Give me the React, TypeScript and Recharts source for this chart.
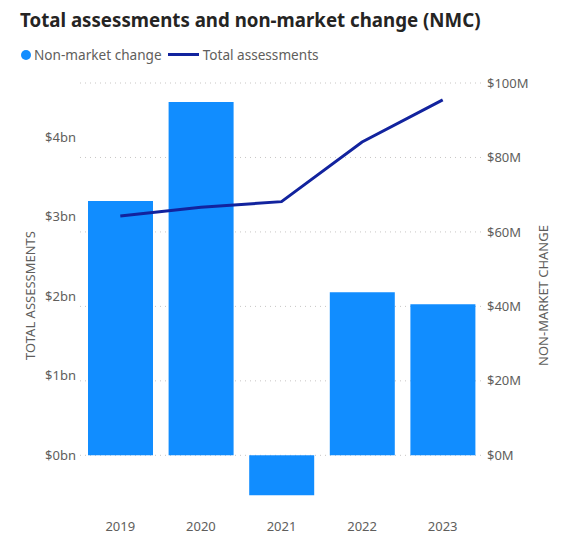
import { ComposedChart, Bar, Line, XAxis, YAxis, CartesianGrid } from 'recharts';

const years = ['2019', '2020', '2021', '2022', '2023'];
// non-market change, $M (right axis)
const nonMarketChange = [68.3, 94.9, -10.7, 43.8, 40.6];
// total assessments, $bn (left axis)
const totalAssessments = [3.01, 3.12, 3.19, 3.94, 4.47];

const bnTicks = [0, 1, 2, 3, 4];
const mTicks = [0, 20, 40, 60, 80, 100];

const data = years.map((year, i) => ({
  year,
  nmc: nonMarketChange[i],
  total: totalAssessments[i],
}));

const FONT = "'Segoe UI', 'Noto Sans', sans-serif";
const BAR = '#118DFF';
const LINE = '#12239E';
const TEXT = '#605E5C';

// both axes share the zero line: 1bn on the left spans ~21.4M on the right
const M_PER_BN = 21.36;
const mDomain = [-12, 100];
const bnDomain = [mDomain[0] / M_PER_BN, mDomain[1] / M_PER_BN];

// plot area in px, used for placing the dotted gridlines on the $M ticks
const PLOT_TOP = 83;
const PLOT_BOTTOM = 500;
const mToY = (v: number) =>
  PLOT_BOTTOM - ((v - mDomain[0]) / (mDomain[1] - mDomain[0])) * (PLOT_BOTTOM - PLOT_TOP);

const tick = { fill: TEXT, fontSize: 13, fontFamily: FONT };

export default function App() {
  return (
    <div
      style={{
        position: 'absolute',
        left: 0,
        top: 0,
        width: 568,
        height: 552,
        background: '#fff',
        fontFamily: FONT,
      }}
    >
      <div
        style={{
          position: 'absolute',
          left: 20,
          top: 7,
          fontSize: 18.7,
          fontWeight: 700,
          color: '#252423',
          whiteSpace: 'nowrap',
        }}
      >
        Total assessments and non-market change (NMC)
      </div>
      <div
        style={{
          position: 'absolute',
          left: 21,
          top: 45,
          display: 'flex',
          alignItems: 'center',
          fontSize: 13.6,
          color: TEXT,
          whiteSpace: 'nowrap',
        }}
      >
        <span
          style={{ width: 10, height: 10, borderRadius: 5, background: BAR, marginRight: 3 }}
        />
        <span>Non-market change</span>
        <span style={{ width: 31, height: 3, background: LINE, margin: '0 4px 0 6px' }} />
        <span>Total assessments</span>
      </div>

      <ComposedChart
        width={568}
        height={552}
        data={data}
        margin={{ top: PLOT_TOP, right: 0, bottom: 0, left: 0 }}
        barCategoryGap={8}
      >
        <CartesianGrid
          yAxisId="right"
          vertical={false}
          stroke="#C8C6C4"
          strokeDasharray="1 4"
          horizontalCoordinatesGenerator={() => mTicks.map(mToY)}
        />
        <XAxis
          dataKey="year"
          axisLine={false}
          tickLine={false}
          tickSize={0}
          tickMargin={22}
          height={552 - PLOT_BOTTOM}
          tick={tick}
        />
        <YAxis
          yAxisId="left"
          orientation="left"
          width={80}
          domain={bnDomain}
          ticks={bnTicks}
          allowDataOverflow
          tickFormatter={(v) => `$${v}bn`}
          axisLine={false}
          tickLine={false}
          tickSize={0}
          tickMargin={4}
          tick={tick}
          label={{
            value: 'TOTAL ASSESSMENTS',
            angle: -90,
            position: 'center',
            dx: -10,
            dy: 4,
            style: { fill: TEXT, fontSize: 13, fontFamily: FONT },
          }}
        />
        <YAxis
          yAxisId="right"
          orientation="right"
          width={85}
          domain={mDomain}
          ticks={mTicks}
          allowDataOverflow
          tickFormatter={(v) => `$${v}M`}
          axisLine={false}
          tickLine={false}
          tickSize={0}
          tickMargin={4}
          tick={{ ...tick, textAnchor: 'start' }}
          label={{
            value: 'NON-MARKET CHANGE',
            angle: -90,
            position: 'center',
            dx: 18,
            dy: 4,
            style: { fill: TEXT, fontSize: 13, fontFamily: FONT },
          }}
        />
        <Bar yAxisId="right" dataKey="nmc" fill={BAR} isAnimationActive={false} />
        <Line
          yAxisId="left"
          type="linear"
          dataKey="total"
          stroke={LINE}
          strokeWidth={3}
          dot={false}
          activeDot={false}
          isAnimationActive={false}
        />
      </ComposedChart>
    </div>
  );
}
